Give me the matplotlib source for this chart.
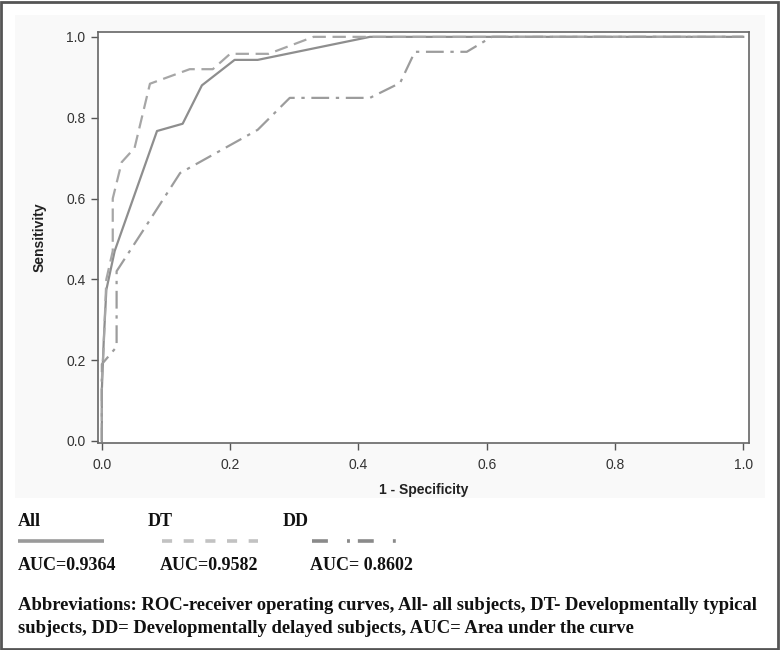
import matplotlib
matplotlib.use('Agg')
import matplotlib.pyplot as plt
from matplotlib.lines import Line2D
from matplotlib.patches import Rectangle

# ROC curves
all_fpr = [0, 0, 0.003, 0.007, 0.02, 0.086, 0.126, 0.156, 0.207, 0.243, 0.418, 1.0]
all_tpr = [0, 0.126, 0.25, 0.374, 0.47, 0.767, 0.785, 0.88, 0.943, 0.943, 1.0, 1.0]

dt_fpr = [0, 0, 0.003, 0.007, 0.017, 0.017, 0.031, 0.051, 0.075, 0.137, 0.173, 0.2, 0.26, 0.33, 1.0]
dt_tpr = [0, 0.15, 0.24, 0.40, 0.47, 0.60, 0.69, 0.725, 0.884, 0.92, 0.92, 0.958, 0.958, 1.0, 1.0]

dd_fpr = [0, 0, 0.023, 0.023, 0.064, 0.122, 0.243, 0.293, 0.418, 0.465, 0.488, 0.569, 0.608, 1.0]
dd_tpr = [0, 0.19, 0.233, 0.42, 0.52, 0.663, 0.77, 0.849, 0.849, 0.886, 0.963, 0.963, 1.0, 1.0]

groups = ['All', 'DT', 'DD']
auc_labels = ['AUC=0.9364', 'AUC=0.9582', 'AUC= 0.8602']
note = ('Abbreviations: ROC-receiver operating curves, All- all subjects, DT- Developmentally typical\n'
        'subjects, DD= Developmentally delayed subjects, AUC= Area under the curve')
ticks = [0.0, 0.2, 0.4, 0.6, 0.8, 1.0]

W, H = 780, 650
fig = plt.figure(figsize=(W / 100, H / 100), dpi=100)
fig.patch.set_facecolor('white')

# light panel behind the graph + outer border
fig.add_artist(Rectangle((15 / W, 1 - 498 / H), 750 / W, 483 / H, transform=fig.transFigure,
                         facecolor='#f9f9f9', edgecolor='none', zorder=0))
fig.add_artist(Rectangle((1 / W, 1 / H), (W - 3) / W, (H - 3) / H, transform=fig.transFigure,
                         facecolor='none', edgecolor='#555555', linewidth=2, zorder=10))

ax = fig.add_axes([98 / W, 1 - 443 / H, 651 / W, 411 / H])
ax.set_facecolor('white')

sty = dict(solid=dict(color='#8e8e8e', lw=1.6, ls='-'),
           dash=dict(color='#a6a6a6', lw=1.6, ls=(0, (6, 3))),
           dd=dict(color='#9c9c9c', lw=1.6, ls=(0, (8, 3, 1.5, 3))))

ax.plot(all_fpr, all_tpr, **sty['solid'])
ax.plot(dt_fpr, dt_tpr, **sty['dash'])
ax.plot(dd_fpr, dd_tpr, **sty['dd'])

ax.set_xlim(-0.006, 1.009)
ax.set_ylim(-0.005, 1.012)
ax.set_xticks(ticks)
ax.set_yticks(ticks)
ax.set_xticklabels(['%.1f' % t for t in ticks])
ax.set_yticklabels(['%.1f' % t for t in ticks])
ax.tick_params(direction='out', length=5, width=1, color='#555555', labelcolor='#333333',
               labelsize=10)
ax.tick_params(axis='x', pad=6)
ax.tick_params(axis='y', pad=4)
for t in ax.get_xticklabels() + ax.get_yticklabels():
    t.set_family('Liberation Sans')
for s in ax.spines.values():
    s.set_color('#666666')
    s.set_linewidth(1.2)

ax.set_xlabel('1 - Specificity', fontsize=10, fontweight='bold', family='Liberation Sans',
              color='#222222', labelpad=8)
ax.set_ylabel('Sensitivity', fontsize=10, fontweight='bold', family='Liberation Sans',
              color='#222222', labelpad=14)

# legend block under the graph
serif = dict(family='Liberation Serif', fontweight='bold', color='#111111')
name_x = [18, 148, 283]
line_x = [(18, 104), (162, 258), (312, 397)]
auc_x = [18, 160, 310]
leg_sty = [dict(color='#9a9a9a', lw=2.6, ls='-'),
           dict(color='#c2c2c2', lw=2.6, ls=(0, (2.8, 3.2))),
           dict(color='#8a8a8a', lw=2.6, ls=(0, (4.4, 5.3, 0.8, 2.2)))]
for i in range(3):
    fig.text(name_x[i] / W, 1 - 521 / H, groups[i], fontsize=13, va='center', **serif)
    x0, x1 = line_x[i]
    fig.add_artist(Line2D([x0 / W, x1 / W], [1 - 541 / H, 1 - 541 / H],
                          transform=fig.transFigure, solid_capstyle='butt',
                          dash_capstyle='butt', **leg_sty[i]))
    fig.text(auc_x[i] / W, 1 - 565 / H, auc_labels[i], fontsize=13, va='center', **serif)

fig.text(18 / W, 1 - 617 / H, note, fontsize=13.4, va='center', linespacing=1.45,
         family='Liberation Serif', fontweight='bold', color='#111111')

fig.savefig('out.png', dpi=100)
